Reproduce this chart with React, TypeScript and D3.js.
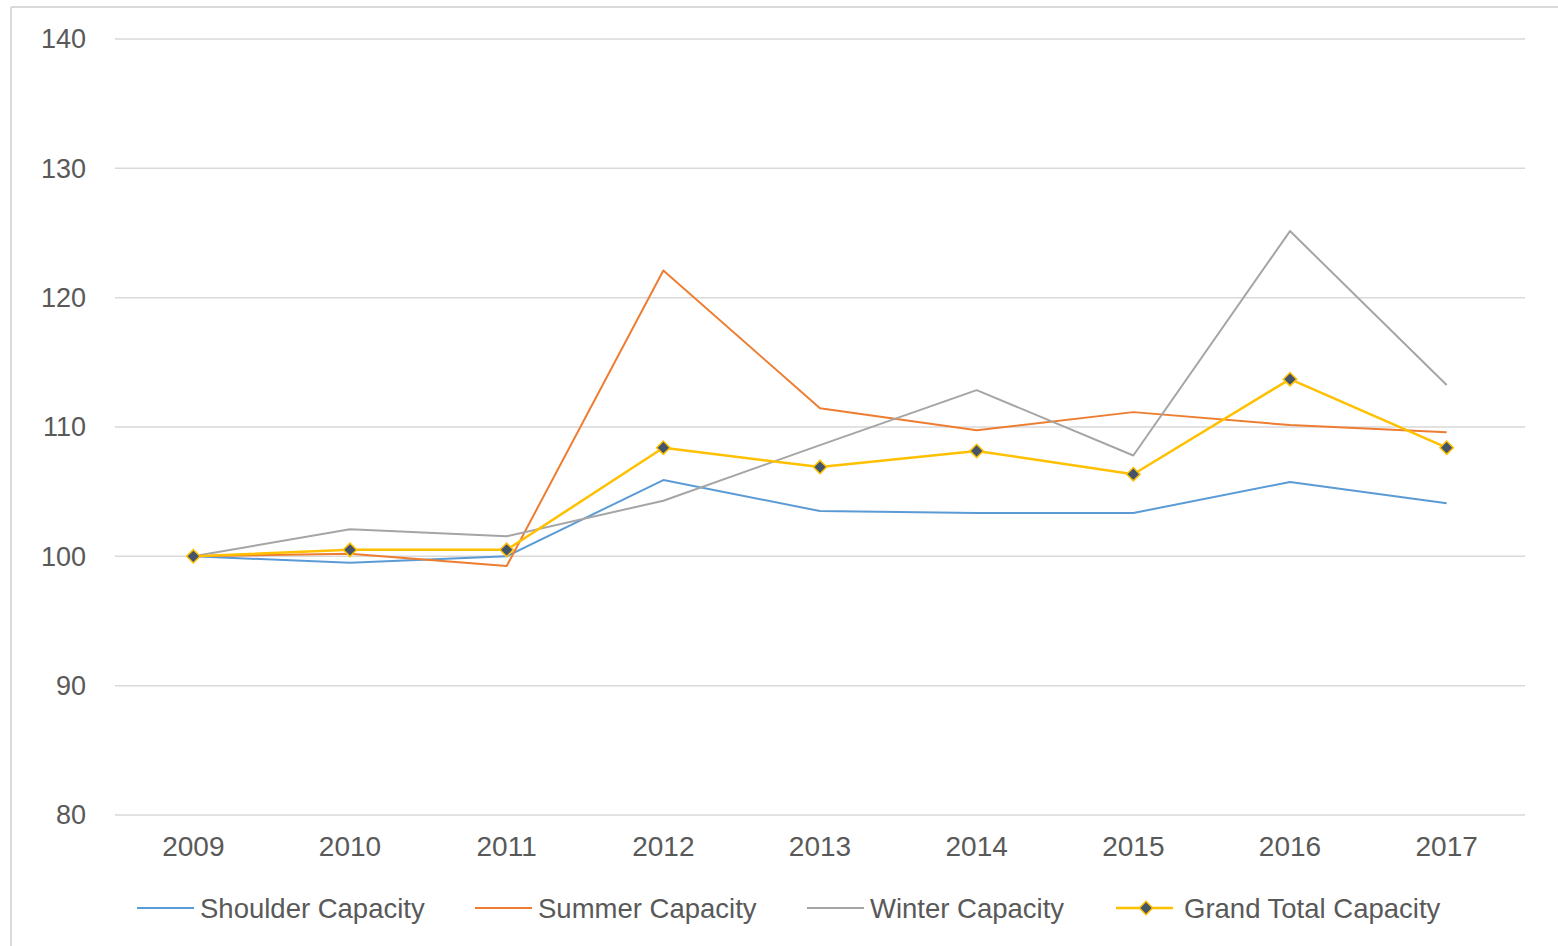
import React from "react";
import * as d3 from "d3";

const years = ["2009", "2010", "2011", "2012", "2013", "2014", "2015", "2016", "2017"];
const shoulder = [100, 99.5, 100.0, 105.9, 103.5, 103.35, 103.35, 105.75, 104.1];
const summer = [100, 100.2, 99.25, 122.1, 111.45, 109.75, 111.15, 110.15, 109.6];
const winter = [100, 102.1, 101.55, 104.3, 108.6, 112.85, 107.8, 125.15, 113.25];
const grandTotal = [100, 100.5, 100.5, 108.4, 106.9, 108.15, 106.35, 113.7, 108.4];
const yTicks = [80, 90, 100, 110, 120, 130, 140];

const seriesList = [
  { name: "Shoulder Capacity", values: shoulder, color: "#5B9BD5", width: 2, marker: false },
  { name: "Summer Capacity", values: summer, color: "#ED7D31", width: 2, marker: false },
  { name: "Winter Capacity", values: winter, color: "#A5A5A5", width: 2, marker: false },
  { name: "Grand Total Capacity", values: grandTotal, color: "#FFC000", width: 2.5, marker: true },
];

// legend item x positions (line start)
const legendX = [137, 475, 807, 1116];

export default function App() {
  const width = 1558;
  const height = 946;
  const margin = { left: 115, right: 33, top: 39, bottom: 131 };

  const xScale = d3
    .scaleBand()
    .domain(years)
    .range([margin.left, width - margin.right]);
  const yScale = d3
    .scaleLinear()
    .domain([80, 140])
    .range([height - margin.bottom, margin.top]);

  const line = d3
    .line<number>()
    .x((d, i) => (xScale(years[i]) as number) + xScale.bandwidth() / 2)
    .y((d) => yScale(d));

  const diamond = d3.symbol().type(d3.symbolSquare).size(90)();
  const font = "'Liberation Sans', Arial, sans-serif";

  return (
    <div style={{ position: "absolute", left: 0, top: 0 }}>
      <svg width={width} height={height} style={{ display: "block", background: "#fff" }}>
        {/* chart frame, only top and left visible */}
        <line x1={11} x2={width} y1={7} y2={7} stroke="#D9D9D9" strokeWidth={2} />
        <line x1={11} x2={11} y1={7} y2={height} stroke="#D9D9D9" strokeWidth={2} />

        {yTicks.map((t) => (
          <g key={t}>
            <line
              x1={margin.left}
              x2={width - margin.right}
              y1={yScale(t)}
              y2={yScale(t)}
              stroke="#D9D9D9"
              strokeWidth={1.5}
            />
            <text
              x={86}
              y={yScale(t)}
              dy="0.35em"
              textAnchor="end"
              fontFamily={font}
              fontSize={27}
              fill="#595959"
            >
              {t}
            </text>
          </g>
        ))}

        {years.map((yr) => (
          <text
            key={yr}
            x={(xScale(yr) as number) + xScale.bandwidth() / 2}
            y={856}
            textAnchor="middle"
            fontFamily={font}
            fontSize={28}
            fill="#595959"
          >
            {yr}
          </text>
        ))}

        {seriesList.map((s) => (
          <path
            key={s.name}
            d={line(s.values) || ""}
            fill="none"
            stroke={s.color}
            strokeWidth={s.width}
            strokeLinejoin="round"
          />
        ))}

        {grandTotal.map((v, i) => (
          <path
            key={i}
            d={diamond}
            transform={`translate(${(xScale(years[i]) as number) + xScale.bandwidth() / 2},${yScale(v)}) rotate(45)`}
            fill="#44546A"
            stroke="#FFC000"
            strokeWidth={1.5}
          />
        ))}

        {seriesList.map((s, i) => (
          <g key={s.name} transform={`translate(${legendX[i]},908)`}>
            <line x1={0} x2={57} y1={0} y2={0} stroke={s.color} strokeWidth={s.width} />
            {s.marker && (
              <path
                d={diamond}
                transform="translate(30,0) rotate(45)"
                fill="#44546A"
                stroke="#FFC000"
                strokeWidth={1.5}
              />
            )}
            <text x={s.marker ? 68 : 63} y={0} dy="0.35em" fontFamily={font} fontSize={27.5} fill="#595959">
              {s.name}
            </text>
          </g>
        ))}
      </svg>
    </div>
  );
}
